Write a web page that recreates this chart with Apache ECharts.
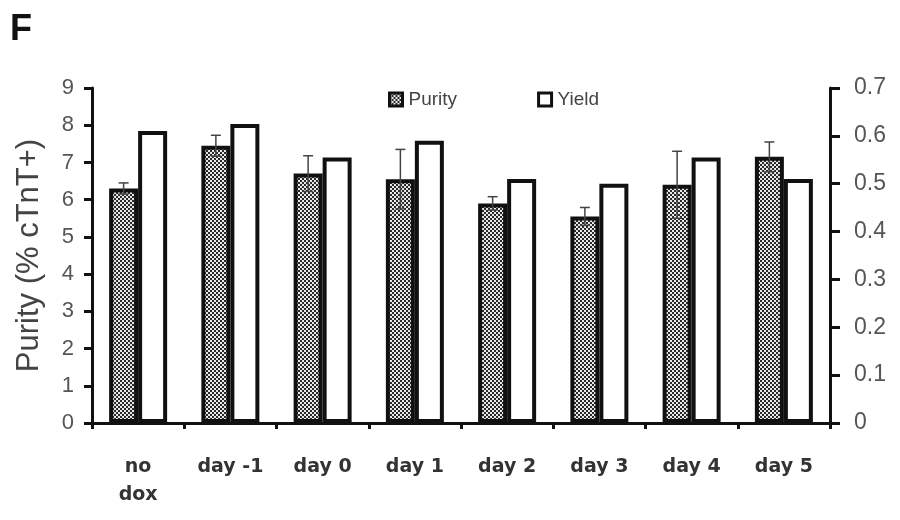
<!DOCTYPE html>
<html>
<head>
<meta charset="utf-8">
<script src="https://cdn.jsdelivr.net/npm/echarts@6/dist/echarts.min.js"></script>
<style>
  html, body { margin: 0; padding: 0; background: #fff; }
  #main { width: 900px; height: 520px; }
</style>
</head>
<body>
<div id="main"></div>
<script>
// values
var categories = ['no\ndox', 'day -1', 'day 0', 'day 1', 'day 2', 'day 3', 'day 4', 'day 5'];
var purity = [6.3, 7.45, 6.7, 6.55, 5.9, 5.55, 6.4, 7.15];
var purityErr = [0.15, 0.28, 0.48, 0.8, 0.18, 0.24, 0.9, 0.4];
var yieldVals = [0.61, 0.625, 0.555, 0.59, 0.51, 0.5, 0.555, 0.51];
var leftTicks = [0, 9, 1];
var rightTicks = [0, 0.7, 0.1];

var BAR_W = 29;

// checkerboard dither like the printed figure
function dotPattern() {
  var c = document.createElement('canvas');
  c.width = 4; c.height = 4;
  var ctx = c.getContext('2d');
  ctx.fillStyle = '#e8e8e8';
  ctx.fillRect(0, 0, 4, 4);
  ctx.fillStyle = '#2a2a2a';
  ctx.fillRect(0, 0, 2, 2);
  ctx.fillRect(2, 2, 2, 2);
  return { image: c, repeat: 'repeat' };
}

var chart = echarts.init(document.getElementById('main'));

var labelFont = 'Liberation Sans, Arial, sans-serif';

var option = {
  animation: false,
  graphic: [{
    type: 'text', left: 10, top: 12,
    style: { text: 'F', font: 'bold 36px ' + labelFont, fill: '#111' }
  }],
  legend: {
    top: 85, left: 383,
    icon: 'rect',
    itemWidth: 13, itemHeight: 13, itemGap: 80,
    itemStyle: { borderWidth: 3, borderColor: '#111' },
    textStyle: { fontFamily: labelFont, fontSize: 19, color: '#444', padding: [0, 0, 0, 1] },
    data: ['Purity', 'Yield']
  },
  grid: { left: 92, right: 70, top: 88, bottom: 97 },
  xAxis: {
    type: 'category',
    data: categories,
    axisLine: { lineStyle: { color: '#111', width: 3 } },
    axisTick: { show: true, length: 6, lineStyle: { color: '#111', width: 3 } },
    axisLabel: {
      fontFamily: 'DejaVu Sans', fontWeight: 'bold', fontSize: 19, color: '#333',
      margin: 30, lineHeight: 28, interval: 0
    }
  },
  yAxis: [{
    type: 'value',
    min: leftTicks[0], max: leftTicks[1], interval: leftTicks[2],
    name: 'Purity (% cTnT+)',
    nameLocation: 'middle', nameGap: 47,
    nameTextStyle: { fontFamily: labelFont, fontSize: 31, color: '#444' },
    splitLine: { show: false },
    axisLine: { show: true, lineStyle: { color: '#111', width: 3 } },
    axisTick: { show: true, length: 8, lineStyle: { color: '#111', width: 3 } },
    axisLabel: { fontFamily: labelFont, fontSize: 22, color: '#555', margin: 18 }
  }, {
    type: 'value',
    position: 'right',
    min: rightTicks[0], max: rightTicks[1], interval: rightTicks[2],
    splitLine: { show: false },
    axisLine: { show: true, lineStyle: { color: '#111', width: 3 } },
    axisTick: { show: true, length: 10, lineStyle: { color: '#111', width: 3 } },
    axisLabel: { fontFamily: labelFont, fontSize: 23, color: '#555', margin: 24 }
  }],
  series: [{
    name: 'Purity',
    type: 'bar',
    yAxisIndex: 0,
    barWidth: BAR_W,
    barGap: '0%',
    data: purity,
    itemStyle: { color: dotPattern(), borderColor: '#111', borderWidth: 4 }
  }, {
    name: 'Yield',
    type: 'bar',
    yAxisIndex: 1,
    barWidth: BAR_W,
    barGap: '0%',
    data: yieldVals,
    itemStyle: { color: '#fff', borderColor: '#111', borderWidth: 4 }
  }, {
    name: 'err',
    type: 'custom',
    yAxisIndex: 0,
    z: 10,
    data: purity.map(function (v, i) { return [i, v - purityErr[i], v + purityErr[i]]; }),
    renderItem: function (params, api) {
      var lo = api.coord([api.value(0), api.value(1)]);
      var hi = api.coord([api.value(0), api.value(2)]);
      var x = lo[0] - BAR_W / 2;
      var cap = 5;
      var st = { stroke: '#444', lineWidth: 1.5 };
      return {
        type: 'group',
        children: [
          { type: 'line', shape: { x1: x, y1: lo[1], x2: x, y2: hi[1] }, style: st },
          { type: 'line', shape: { x1: x - cap, y1: hi[1], x2: x + cap, y2: hi[1] }, style: st },
          { type: 'line', shape: { x1: x - cap, y1: lo[1], x2: x + cap, y2: lo[1] }, style: st }
        ]
      };
    }
  }]
};

chart.setOption(option);
</script>
</body>
</html>
